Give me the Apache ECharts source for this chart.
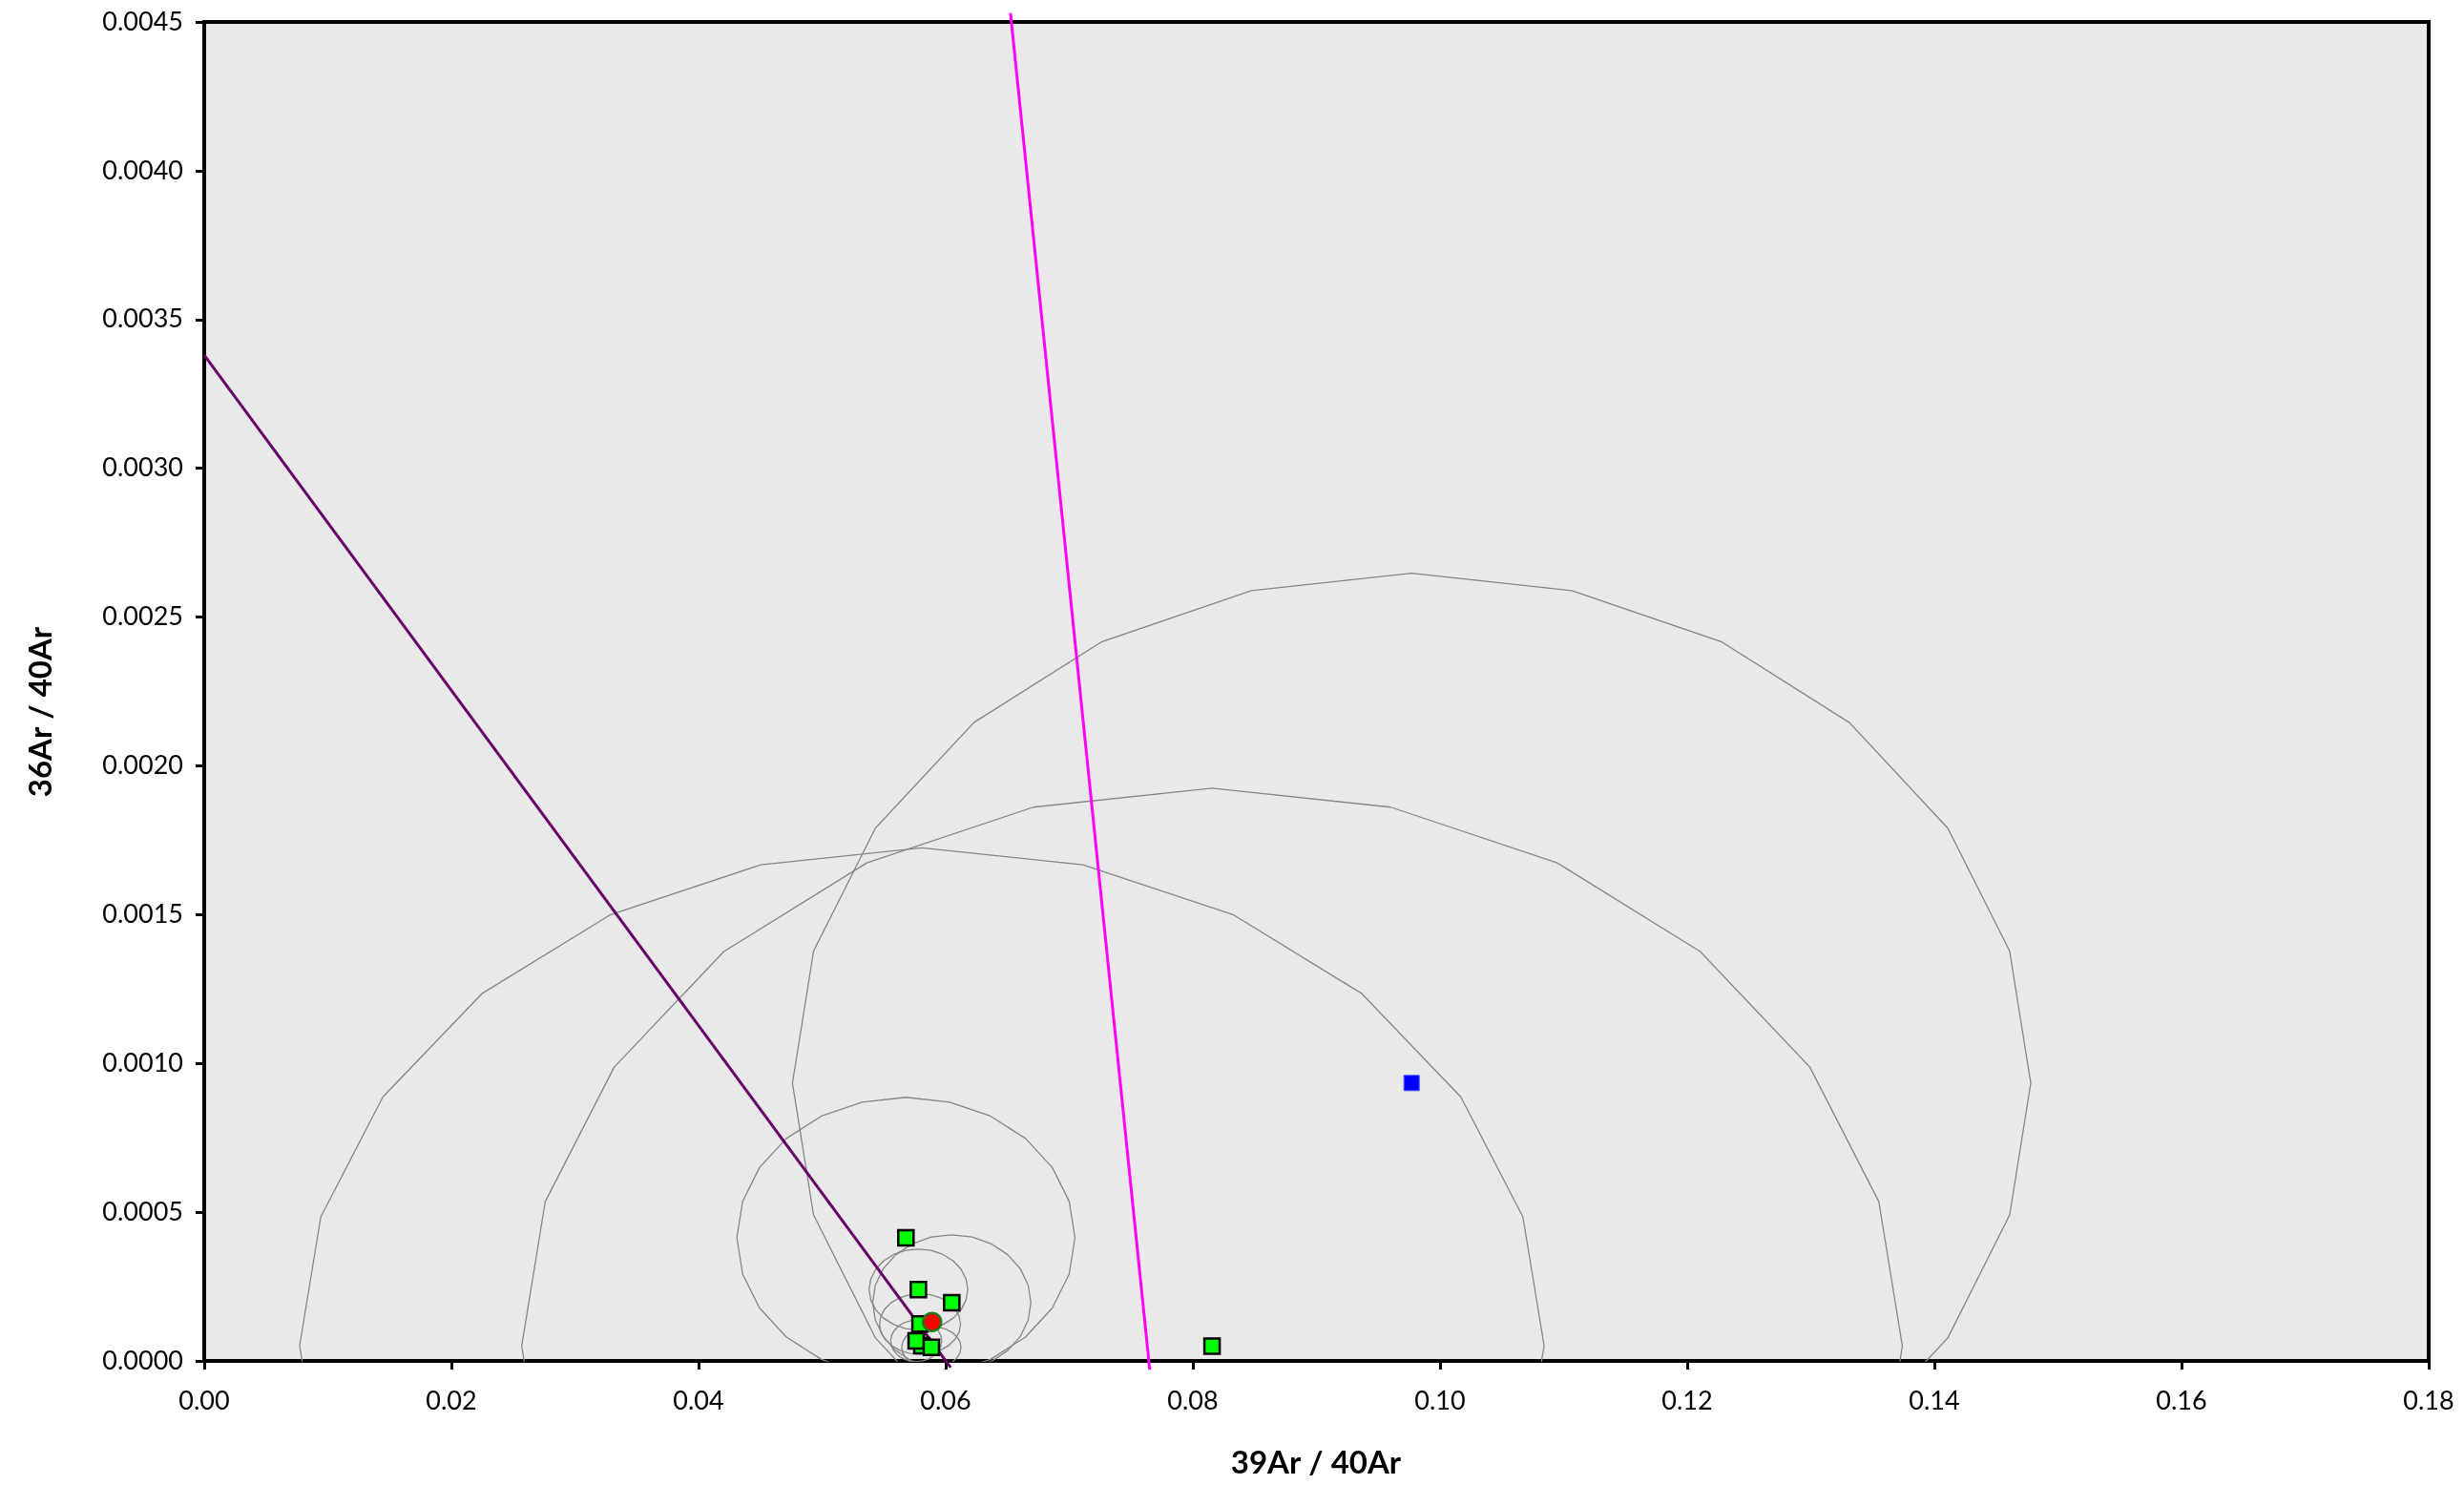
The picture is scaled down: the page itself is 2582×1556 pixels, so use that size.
<!DOCTYPE html>
<html>
<head>
<meta charset="utf-8">
<script src="https://cdn.jsdelivr.net/npm/echarts@6/dist/echarts.min.js"></script>
<style>
  html, body { margin: 0; padding: 0; background: #ffffff; }
  #chart { width: 2582px; height: 1556px; }
</style>
</head>
<body>
<div id="chart"></div>
<script>
// Inverse isochron: 36Ar/40Ar versus 39Ar/40Ar for the heating steps.
// Included steps (green): ratio values and the half widths of their error ellipses.
const stepX    = [0.05678, 0.05779, 0.06049, 0.05792, 0.05807, 0.05761, 0.05884, 0.08155];
const stepY    = [0.000414, 0.000240, 0.000196, 0.000124, 0.0000513, 0.0000673, 0.0000458, 0.000050];
const stepErrX = [0.01368, 0.00399, 0.00640, 0.00328, 0.05035, 0.00206, 0.00240, 0.05586];
const stepErrY = [0.000472, 0.000136, 0.000228, 0.000102, 0.001673, 0.0000695, 0.000070, 0.001875];

// Excluded step (blue).
const rejectX    = [0.0977];
const rejectY    = [0.000934];
const rejectErrX = [0.0501];
const rejectErrY = [0.001713];

// Centroid of the included steps (red).
const centroidX = [0.05890];
const centroidY = [0.000131];

// Isochron fit and reference line, as end points [39Ar/40Ar, 36Ar/40Ar].
const isochronLine  = [[0, 0.00338], [0.0604, -0.0000224]];
const referenceLine = [[0.06524, 0.00453], [0.07651, -0.000029]];

// Axis ranges and tick steps.
const xRange = [0, 0.18], xStep = 0.02;
const yRange = [0, 0.0045], yStep = 0.0005;

// Error ellipse outline: 24 straight segments, axis aligned.
function ellipseOutline(cx, cy, a, b) {
  const pts = [];
  for (let k = 0; k <= 24; k++) {
    const t = k * Math.PI / 12;
    pts.push([cx - a * Math.cos(t), cy + b * Math.sin(t)]);
  }
  return pts;
}

const ellipseSeries = [];
function addEllipses(xs, ys, ex, ey) {
  xs.forEach((x, i) => {
    ellipseSeries.push({
      type: 'line',
      data: ellipseOutline(x, ys[i], ex[i], ey[i]),
      showSymbol: false,
      symbol: 'none',
      silent: true,
      z: 1,
      lineStyle: { color: '#858585', width: 1.3 }
    });
  });
}
addEllipses(stepX, stepY, stepErrX, stepErrY);
addEllipses(rejectX, rejectY, rejectErrX, rejectErrY);

const zip = (xs, ys) => xs.map((x, i) => [x, ys[i]]);
const font = 'Lato';

const chart = echarts.init(document.getElementById('chart'), null, { renderer: 'canvas' });
chart.setOption({
  animation: false,
  backgroundColor: '#ffffff',
  grid: {
    left: 214, top: 23, width: 2331, height: 1403,
    show: true, backgroundColor: '#e9e9e9', borderColor: '#000000', borderWidth: 4
  },
  xAxis: {
    type: 'value', min: xRange[0], max: xRange[1], interval: xStep,
    axisLine: { show: true, onZero: false, lineStyle: { color: '#000000', width: 4 } },
    axisTick: { show: true, length: 9, lineStyle: { color: '#000000', width: 3 } },
    axisLabel: {
      formatter: v => v.toFixed(2), fontSize: 27, fontFamily: font, color: '#000000',
      margin: 29, showMinLabel: true, showMaxLabel: true
    },
    splitLine: { show: false }
  },
  yAxis: {
    type: 'value', min: yRange[0], max: yRange[1], interval: yStep,
    axisLine: { show: true, onZero: false, lineStyle: { color: '#000000', width: 4 } },
    axisTick: { show: true, length: 9, lineStyle: { color: '#000000', width: 3 } },
    axisLabel: {
      formatter: v => v.toFixed(4), fontSize: 27, fontFamily: font, color: '#000000',
      margin: 22, showMinLabel: true, showMaxLabel: true
    },
    splitLine: { show: false }
  },
  graphic: [
    {
      type: 'text', x: 1379, y: 1533, silent: true,
      style: { text: '39Ar / 40Ar', font: 'bold 33px Lato', fill: '#000000',
               textAlign: 'center', textVerticalAlign: 'middle' }
    },
    {
      type: 'text', x: 43, y: 746, rotation: Math.PI / 2, silent: true,
      style: { text: '36Ar / 40Ar', font: 'bold 33px Lato', fill: '#000000',
               textAlign: 'center', textVerticalAlign: 'middle' }
    }
  ],
  series: [
    ...ellipseSeries,
    {
      type: 'line', data: referenceLine, showSymbol: false, symbol: 'none', clip: false, z: 2,
      lineStyle: { color: '#ff00ff', width: 3 }
    },
    {
      type: 'line', data: isochronLine, showSymbol: false, symbol: 'none', clip: false, z: 2,
      lineStyle: { color: '#660066', width: 3 }
    },
    {
      type: 'scatter', data: zip(stepX, stepY), symbol: 'rect', symbolSize: 16, z: 3,
      itemStyle: { color: '#00ff00', borderColor: '#000000', borderWidth: 2.5, opacity: 1 }
    },
    {
      type: 'scatter', data: zip(rejectX, rejectY), symbol: 'rect', symbolSize: 16, z: 3,
      itemStyle: { color: '#0000ff', borderColor: '#4a4aff', borderWidth: 1, opacity: 1 }
    },
    {
      type: 'scatter', data: zip(centroidX, centroidY), symbol: 'circle', symbolSize: 19, z: 4,
      itemStyle: { color: '#ff0000', borderColor: '#1d7a1d', borderWidth: 2.5, opacity: 1 }
    }
  ]
});
</script>
</body>
</html>
